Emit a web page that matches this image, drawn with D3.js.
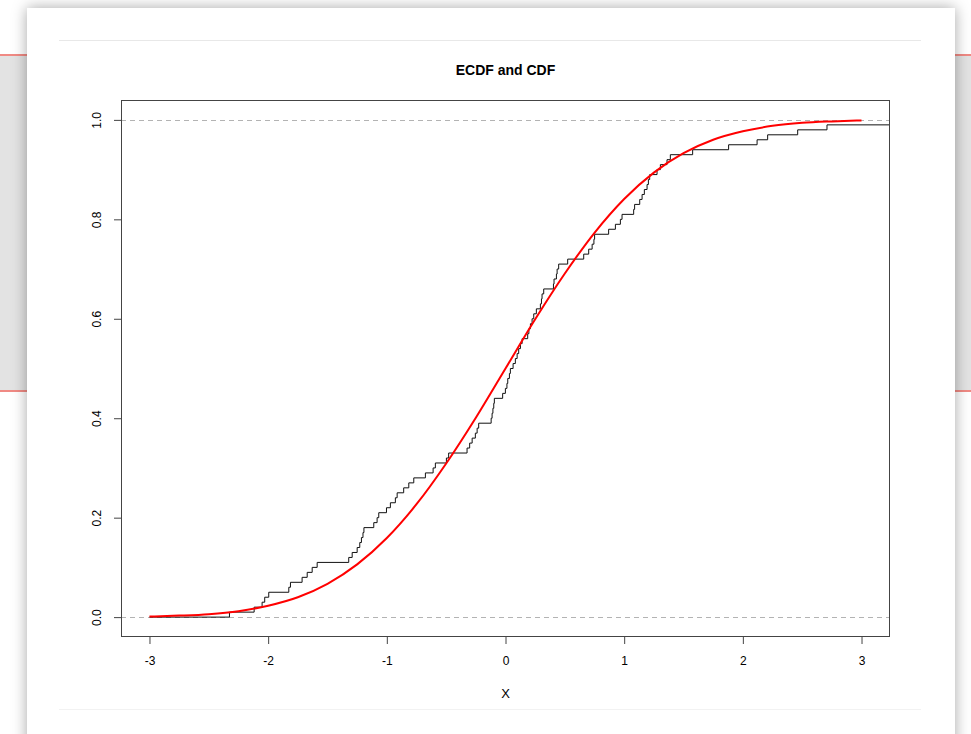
<!DOCTYPE html>
<html>
<head>
<meta charset="utf-8">
<script src="https://cdn.jsdelivr.net/npm/d3@7"></script>
<style>
  body { margin: 0; background: #fff; }
  #page { position: relative; width: 971px; height: 734px; overflow: hidden; background: #fff; }
  #band { position: absolute; left: 0; top: 54px; width: 971px; height: 334px;
          background: #e3e3e3; border-top: 2px solid #f08a84; border-bottom: 2px solid #f08a84; }
  #card { position: absolute; left: 27px; top: 8px; width: 928px; height: 760px; background: #fff;
          box-shadow: 0 0 14px rgba(0,0,0,0.35); }
  .rule { position: absolute; left: 59px; width: 862px; height: 1px; background: #e8e8e8; }
  svg { position: absolute; left: 0; top: 0; }
  text { font-family: "Liberation Sans", Arial, Helvetica, sans-serif; }
</style>
</head>
<body>
<div id="page">
  <div id="band"></div>
  <div id="card"></div>
  <div class="rule" style="top:40px"></div>
  <div class="rule" style="top:709px; background:#f2f2f2"></div>
  <div id="chart"></div>
</div>
<script>
// sample values behind the ECDF
const sampleX = [
  -2.326, -2.118, -2.051, -2.029, -1.995, -1.826, -1.812, -1.714, -1.671, -1.629,
  -1.587, -1.321, -1.292, -1.250, -1.228, -1.214, -1.201, -1.193, -1.110, -1.082,
  -1.068, -1.003, -0.970, -0.928, -0.913, -0.858, -0.815, -0.773, -0.675, -0.610,
  -0.591, -0.498, -0.479, -0.324, -0.302, -0.281, -0.254, -0.239, -0.226, -0.121,
  -0.113, -0.106, -0.099, -0.094, -0.024, -0.001, 0.012, 0.019, 0.033, 0.041,
  0.064, 0.083, 0.098, 0.111, 0.126, 0.140, 0.187, 0.197, 0.210, 0.224,
  0.238, 0.260, 0.294, 0.303, 0.308, 0.322, 0.404, 0.409, 0.429, 0.435,
  0.448, 0.524, 0.659, 0.701, 0.730, 0.745, 0.751, 0.869, 0.926, 0.968,
  0.982, 1.080, 1.088, 1.131, 1.151, 1.170, 1.193, 1.204, 1.215, 1.277,
  1.305, 1.361, 1.389, 1.577, 1.880, 2.120, 2.209, 2.462, 2.709, 3.400
]

// red curve, read at steps of 0.25
const cdfX = [-3, -2.75, -2.5, -2.25, -2, -1.75, -1.5, -1.25, -1, -0.75, -0.5, -0.25,
  0, 0.25, 0.5, 0.75, 1, 1.25, 1.5, 1.75, 2, 2.25, 2.5, 2.75, 3]
const cdfY = [0.001, 0.003, 0.006, 0.012, 0.023, 0.040, 0.067, 0.106, 0.159, 0.227, 0.309, 0.401,
  0.5, 0.599, 0.691, 0.773, 0.841, 0.894, 0.933, 0.960, 0.977, 0.988, 0.994, 0.997, 0.999]

const xTicks = [-3, -2, -1, 0, 1, 2, 3]
const yTicks = [0, 0.2, 0.4, 0.6, 0.8, 1.0]
const refLines = [0, 1]

const margin = { top: 100, left: 121, right: 81, bottom: 97 }
const width = 971
const height = 734

const svg = d3
  .select('#chart')
  .append('svg')
  .attr('width', width)
  .attr('height', height)

const xScale = d3.scaleLinear().domain([-3.24, 3.24]).range([margin.left, width - margin.right])
const yScale = d3.scaleLinear().domain([-0.04, 1.04]).range([height - margin.bottom, margin.top])

svg
  .append('clipPath')
  .attr('id', 'plot-clip')
  .append('rect')
  .attr('x', margin.left)
  .attr('y', margin.top)
  .attr('width', width - margin.left - margin.right)
  .attr('height', height - margin.top - margin.bottom)

const plot = svg.append('g').attr('clip-path', 'url(#plot-clip)')

// dashed lines at 0 and 1
plot
  .selectAll('.ref')
  .data(refLines)
  .enter()
  .append('line')
  .attr('class', 'ref')
  .attr('x1', margin.left)
  .attr('x2', width - margin.right)
  .attr('y1', d => Math.round(yScale(d)) + 0.5)
  .attr('y2', d => Math.round(yScale(d)) + 0.5)
  .attr('stroke', '#b3b3b3')
  .attr('stroke-dasharray', '5,4')

// ECDF as a step line
const sorted = sampleX.slice().sort((a, b) => a - b)
const steps = [[-3, 0]]
sorted.forEach((v, i) => steps.push([v, (i + 1) / sorted.length]))
steps.push([xScale.domain()[1] + 1, steps[steps.length - 1][1]])

const stepLine = d3
  .line()
  .x(d => xScale(d[0]))
  .y(d => yScale(d[1]))
  .curve(d3.curveStepAfter)

plot
  .append('path')
  .datum(steps.filter((d, i) => i === steps.length - 1 || d[0] <= 3.24))
  .attr('d', stepLine)
  .attr('fill', 'none')
  .attr('stroke', '#111')
  .attr('stroke-width', 1)

// CDF curve
const cdfLine = d3
  .line()
  .x(d => xScale(d[0]))
  .y(d => yScale(d[1]))
  .curve(d3.curveMonotoneX)

plot
  .append('path')
  .datum(cdfX.map((x, i) => [x, cdfY[i]]))
  .attr('d', cdfLine)
  .attr('fill', 'none')
  .attr('stroke', 'red')
  .attr('stroke-width', 2)

// box
svg
  .append('rect')
  .attr('x', margin.left + 0.5)
  .attr('y', margin.top + 0.5)
  .attr('width', width - margin.left - margin.right - 1)
  .attr('height', height - margin.top - margin.bottom - 1)
  .attr('fill', 'none')
  .attr('stroke', '#444')

// axes (plain hyphen for negatives, like R)
const xAxis = svg
  .append('g')
  .attr('transform', `translate(0,${height - margin.bottom})`)
  .call(d3.axisBottom(xScale).tickValues(xTicks).tickFormat(d => String(d)).tickSize(7).tickPadding(12))
xAxis.select('.domain').remove()
xAxis.selectAll('line').attr('stroke', '#444')
xAxis.selectAll('text').attr('font-size', 12).attr('fill', '#000')

const yAxis = svg
  .append('g')
  .attr('transform', `translate(${margin.left},0)`)
  .call(d3.axisLeft(yScale).tickValues(yTicks).tickFormat(d => d.toFixed(1)).tickSize(7))
yAxis.select('.domain').remove()
yAxis.selectAll('line').attr('stroke', '#444')
yAxis
  .selectAll('text')
  .attr('x', null)
  .attr('dy', null)
  .attr('text-anchor', 'middle')
  .attr('transform', 'translate(-20,0) rotate(-90)')
  .attr('font-size', 12)
  .attr('fill', '#000')

// title and label
svg
  .append('text')
  .attr('x', xScale(0))
  .attr('y', 75)
  .attr('text-anchor', 'middle')
  .attr('font-size', 14)
  .attr('font-weight', 'bold')
  .text('ECDF and CDF')

svg
  .append('text')
  .attr('x', xScale(0))
  .attr('y', 698)
  .attr('text-anchor', 'middle')
  .attr('font-size', 13)
  .text('X')
</script>
</body>
</html>
